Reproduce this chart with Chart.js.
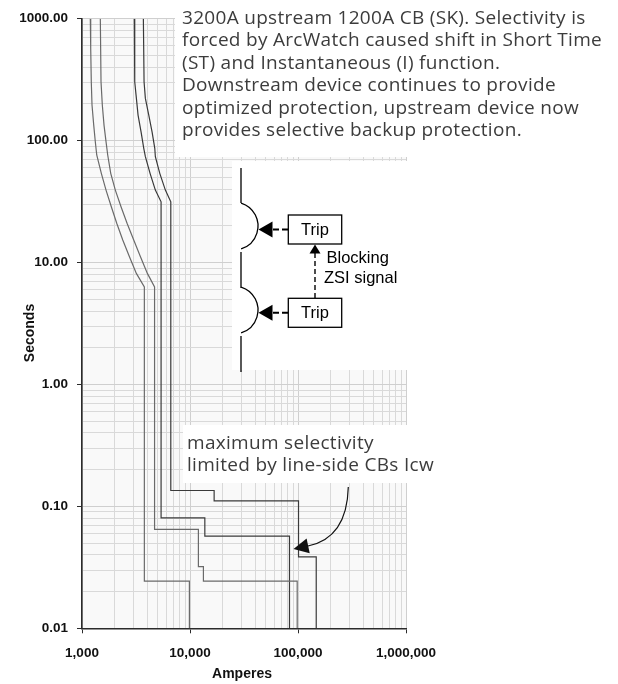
<!DOCTYPE html>
<html>
<head>
<meta charset="utf-8">
<script src="https://cdn.jsdelivr.net/npm/chart.js@4.4.1/dist/chart.umd.min.js"></script>
<style>
  html, body { margin: 0; padding: 0; background: #fff; }
  canvas { display: block; }
</style>
</head>
<body>
<canvas id="tcc" width="618" height="684"></canvas>
<script>
// axis ticks
const ampDecades = [1000, 10000, 100000, 1000000];
const ampLabels = ['1,000', '10,000', '100,000', '1,000,000'];
const secDecades = [0.01, 0.1, 1, 10, 100, 1000];
const secLabels = ['0.01', '0.10', '1.00', '10.00', '100.00', '1000.00'];
const minorSteps = [2, 3, 4, 5, 6, 7, 8, 9];

// downstream 1200A CB, lower band
const downMinAmps = [1194, 1204, 1219, 1238, 1284, 1328, 1369, 1510, 1669, 1868, 2097, 2384, 2744, 3186, 3779, 3779, 9870, 9870];
const downMinSecs = [1000, 572, 304, 196, 134, 98, 76.2, 53.9, 39.3, 28.7, 21.0, 15.3, 11.2, 8.15, 6.30, 0.0244, 0.0244, 0.01];
// downstream 1200A CB, upper band
const downMaxAmps = [1478, 1500, 1542, 1599, 1669, 1730, 1845, 2035, 2298, 2613, 3013, 3470, 4030, 4698, 4698, 11960, 11960, 13310, 13310, 98300, 98300];
const downMaxSecs = [1000, 304, 196, 134, 98, 76.2, 53.9, 39.3, 28.7, 21.0, 15.3, 11.2, 8.15, 6.30, 0.0648, 0.0648, 0.0320, 0.0320, 0.0244, 0.0244, 0.01];
// upstream 3200A CB, lower band
const upMinAmps = [3052, 3078, 3165, 3304, 3523, 3731, 3862, 4268, 4778, 5398, 5398, 13720, 13720, 83400, 83400];
const upMinSecs = [1000, 304, 237, 162, 118, 86.5, 73.8, 53.9, 39.3, 31.5, 0.0806, 0.0806, 0.0571, 0.0571, 0.01];
// upstream 3200A CB, upper band
const upMaxAmps = [3700, 3755, 3862, 4152, 4454, 4719, 4778, 5250, 5916, 6640, 6640, 16730, 16730, 101100, 101100, 147500, 147500];
const upMaxSecs = [1000, 304, 222, 162, 118, 86.5, 73.8, 53.9, 39.3, 31.5, 0.135, 0.135, 0.111, 0.111, 0.0386, 0.0386, 0.01];

const noteTop = [
  '3200A upstream 1200A CB (SK). Selectivity is',
  'forced by ArcWatch caused shift in Short Time',
  '(ST) and Instantaneous (I) function.',
  'Downstream device continues to provide',
  'optimized protection, upstream device now',
  'provides selective backup protection.'
];
const noteLimit = ['maximum selectivity', 'limited by line-side CBs Icw'];

const TICK_FONT = '"Liberation Sans", Arial, sans-serif';
const NOTE_FONT = '"Open Sans", "Noto Sans", sans-serif';

function buildTicks(decades) {
  const ticks = [];
  decades.forEach((d, i) => {
    ticks.push({ value: d, major: true });
    if (i < decades.length - 1) {
      minorSteps.forEach(m => ticks.push({ value: +(d * m).toPrecision(6), major: false }));
    }
  });
  return ticks;
}

function pairs(xs, ys) {
  return xs.map((x, i) => ({ x: x, y: ys[i] }));
}

function curve(xs, ys, color) {
  return {
    data: pairs(xs, ys),
    borderColor: color,
    borderWidth: 1.2,
    pointRadius: 0,
    tension: 0,
    fill: false
  };
}

function arrowHead(ctx, tipX, tipY, angle, len, half) {
  ctx.save();
  ctx.translate(tipX, tipY);
  ctx.rotate(angle);
  ctx.beginPath();
  ctx.moveTo(0, 0);
  ctx.lineTo(len, -half);
  ctx.lineTo(len, half);
  ctx.closePath();
  ctx.fill();
  ctx.restore();
}

const panels = {
  id: 'panels',
  beforeDraw(chart) {
    const { ctx, chartArea: a } = chart;
    ctx.save();
    ctx.fillStyle = '#f9f9f9';
    ctx.fillRect(a.left, a.top, a.right - a.left, a.bottom - a.top);
    ctx.restore();
  },
  beforeDatasetsDraw(chart) {
    const ctx = chart.ctx;
    ctx.save();
    ctx.fillStyle = '#ffffff';
    ctx.fillRect(175, 0, 443, 157);
    ctx.fillRect(232, 161, 180, 209);
    ctx.fillRect(183, 425, 235, 58);
    ctx.restore();
  },
  afterDraw(chart) {
    const ctx = chart.ctx;
    ctx.save();

    // axis titles
    ctx.fillStyle = '#111';
    ctx.font = 'bold 14px ' + TICK_FONT;
    ctx.textAlign = 'center';
    ctx.textBaseline = 'middle';
    ctx.fillText('Amperes', 242, 674);
    ctx.save();
    ctx.translate(30, 333);
    ctx.rotate(-Math.PI / 2);
    ctx.fillText('Seconds', 0, 0);
    ctx.restore();

    // notes
    ctx.fillStyle = '#3c3c3c';
    ctx.font = '19px ' + NOTE_FONT;
    ctx.letterSpacing = '0.3px';
    ctx.textAlign = 'left';
    ctx.textBaseline = 'alphabetic';
    noteTop.forEach((t, i) => ctx.fillText(t, 182, 23.5 + i * 22.5));
    noteLimit.forEach((t, i) => ctx.fillText(t, 187, 448.5 + i * 22.4));
    ctx.letterSpacing = '0px';

    // curved arrow to the Icw step
    ctx.strokeStyle = '#111';
    ctx.fillStyle = '#111';
    ctx.lineWidth = 1.2;
    ctx.beginPath();
    ctx.moveTo(348.3, 487);
    ctx.quadraticCurveTo(347, 538, 308, 546);
    ctx.stroke();
    arrowHead(ctx, 293.5, 549, Math.atan2(-3, 14), 15, 7.5);

    // ZSI diagram
    ctx.strokeStyle = '#000';
    ctx.fillStyle = '#000';
    ctx.lineWidth = 1.3;
    ctx.beginPath();
    ctx.moveTo(241, 168); ctx.lineTo(241, 203);
    ctx.moveTo(241, 252); ctx.lineTo(241, 288);
    ctx.moveTo(241, 336); ctx.lineTo(241, 372);
    ctx.stroke();
    [226, 310].forEach(cy => {
      ctx.beginPath();
      ctx.arc(234, cy, 24, -1.27, 1.27);
      ctx.stroke();
    });

    // trip boxes
    ctx.fillStyle = '#fff';
    [215, 298.3].forEach(top => {
      ctx.fillRect(288.3, top, 53.4, 29);
      ctx.strokeRect(288.3, top, 53.4, 29);
    });

    // dashed arrows to the breakers
    ctx.fillStyle = '#000';
    ctx.lineWidth = 2;
    ctx.setLineDash([6, 3]);
    [229.5, 312.8].forEach(y => {
      ctx.beginPath();
      ctx.moveTo(288, y);
      ctx.lineTo(271, y);
      ctx.stroke();
    });
    ctx.lineWidth = 1.4;
    ctx.setLineDash([5, 3]);
    ctx.beginPath();
    ctx.moveTo(315, 298);
    ctx.lineTo(315, 253);
    ctx.stroke();
    ctx.setLineDash([]);
    arrowHead(ctx, 258.5, 229.5, 0, 14, 8);
    arrowHead(ctx, 258.5, 312.8, 0, 14, 8);
    arrowHead(ctx, 315, 244.5, Math.PI / 2, 9, 5.5);

    ctx.font = '16.5px ' + TICK_FONT;
    ctx.textAlign = 'center';
    ctx.textBaseline = 'middle';
    ctx.fillText('Trip', 315, 230);
    ctx.fillText('Trip', 315, 313.5);
    ctx.textAlign = 'left';
    ctx.fillText('Blocking', 326.5, 258.5);
    ctx.fillText('ZSI signal', 324, 278.5);

    ctx.restore();
  }
};

new Chart(document.getElementById('tcc'), {
  type: 'line',
  data: {
    datasets: [
      curve(downMinAmps, downMinSecs, '#6a6a6a'),
      curve(downMaxAmps, downMaxSecs, '#6a6a6a'),
      curve(upMinAmps, upMinSecs, '#3a3a3a'),
      curve(upMaxAmps, upMaxSecs, '#3a3a3a')
    ]
  },
  options: {
    responsive: false,
    animation: false,
    devicePixelRatio: 1,
    layout: { padding: { left: 0, top: 18.7, right: 212, bottom: 0 } },
    plugins: { legend: { display: false }, tooltip: { enabled: false } },
    scales: {
      x: {
        type: 'logarithmic',
        min: 1000,
        max: 1000000,
        afterBuildTicks: s => { s.ticks = buildTicks(ampDecades); },
        afterFit: s => { s.height = 684 - 628.3; },
        border: { color: '#2b2b2b', width: 1.6 },
        grid: {
          color: c => c.tick && c.tick.major ? '#cfcfcf' : '#d9d9d9',
          lineWidth: 1,
          tickLength: 5,
          tickColor: c => c.tick && c.tick.major ? '#2b2b2b' : 'rgba(0,0,0,0)'
        },
        ticks: {
          autoSkip: false,
          maxRotation: 0,
          padding: 11.5,
          color: '#111',
          font: { family: TICK_FONT, size: 13.5, weight: 'bold' },
          callback: v => {
            const i = ampDecades.indexOf(v);
            return i >= 0 ? ampLabels[i] : '';
          }
        }
      },
      y: {
        type: 'logarithmic',
        min: 0.01,
        max: 1000,
        afterBuildTicks: s => { s.ticks = buildTicks(secDecades); },
        afterFit: s => { s.width = 82; },
        border: { color: '#2b2b2b', width: 1.6 },
        grid: {
          color: c => c.tick && c.tick.major ? '#cfcfcf' : '#d9d9d9',
          lineWidth: 1,
          tickLength: 5,
          tickColor: c => c.tick && c.tick.major ? '#2b2b2b' : 'rgba(0,0,0,0)'
        },
        ticks: {
          autoSkip: false,
          padding: 9,
          color: '#111',
          font: { family: TICK_FONT, size: 13.5, weight: 'bold' },
          callback: v => {
            const i = secDecades.indexOf(v);
            return i >= 0 ? secLabels[i] : '';
          }
        }
      }
    }
  },
  plugins: [panels]
});
</script>
</body>
</html>
